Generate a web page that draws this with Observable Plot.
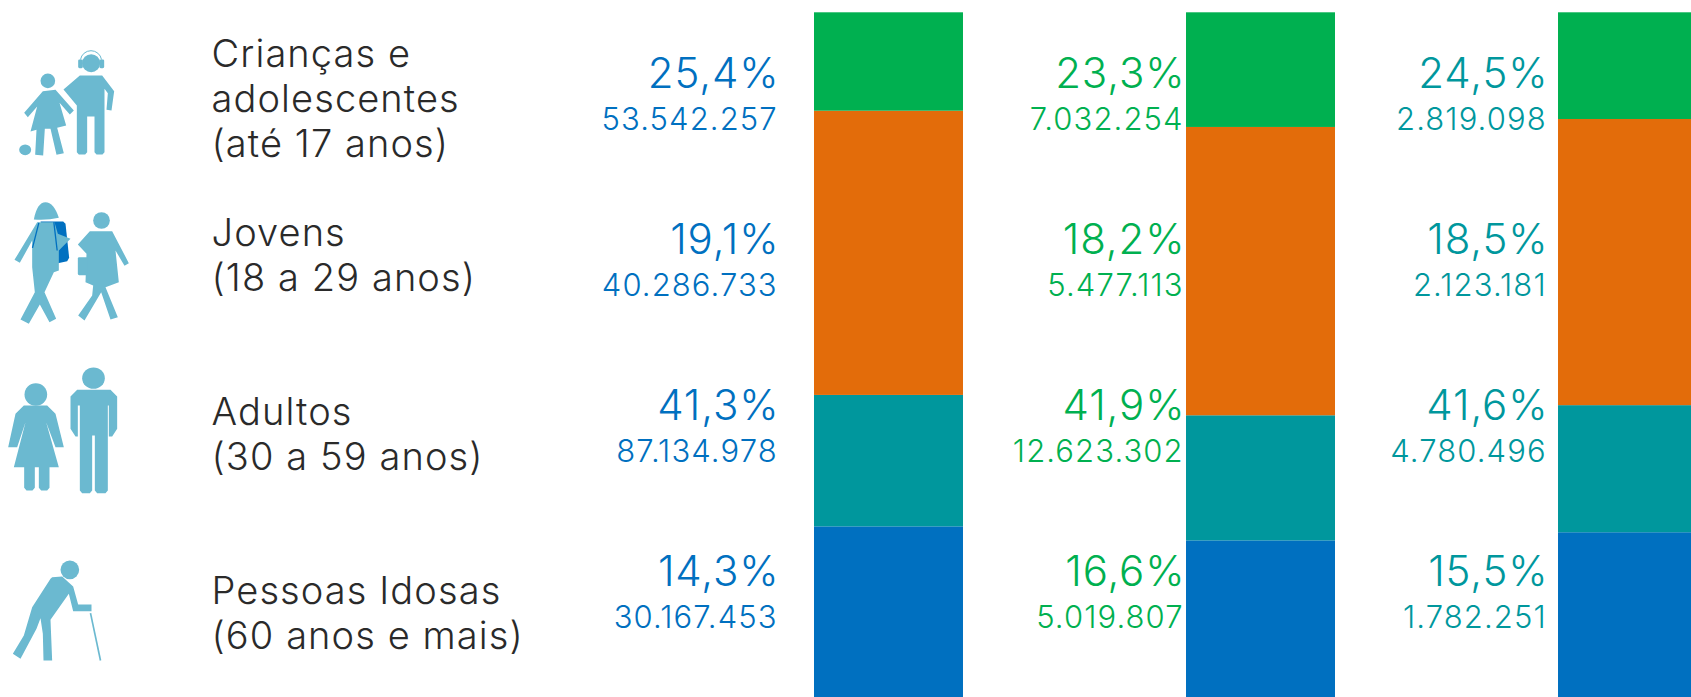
<!DOCTYPE html>
<html><head><meta charset="utf-8">
<script src="https://cdn.jsdelivr.net/npm/d3@7"></script>
<script src="https://cdn.jsdelivr.net/npm/@observablehq/plot@0.6"></script>
<style>
html,body{margin:0;padding:0;background:#fff;overflow:hidden}
#c{position:relative;width:1691px;height:697px}
#c svg{position:absolute;left:0;top:0;background:transparent}
#c g[font-size="42"]{letter-spacing:.9px}
#c g[font-size="31"]{letter-spacing:1.1px}
#c g[font-size="38"]{letter-spacing:1.1px}
</style></head><body><div id="c"></div>
<script>
const groups = ["Crianças e\nadolescentes\n(até 17 anos)","Jovens\n(18 a 29 anos)","Adultos\n(30 a 59 anos)","Pessoas Idosas\n(60 anos e mais)"];
const columns = ["A","B","C"];
const percentA = ["25,4%","19,1%","41,3%","14,3%"];
const percentB = ["23,3%","18,2%","41,9%","16,6%"];
const percentC = ["24,5%","18,5%","41,6%","15,5%"];
const countA = [53542257,40286733,87134978,30167453];
const countB = [7032254,5477113,12623302,5019807];
const countC = [2819098,2123181,4780496,1782251];
const segmentColors = ["#0070C0","#00979D","#E36C0A","#00B050"];
const textColors = ["#0070C0","#00B050","#00979D"];

const fmt = n => d3.format(",")(n).replace(/,/g,".");
const pcts=[percentA,percentB,percentC], cnts=[countA,countB,countC];
const bars = columns.flatMap((c,j)=>groups.map((g,i)=>({c,g,v:cnts[j][i]})));
const font = "Inter, sans-serif";

const X = {type:"band",domain:columns,range:[814,1707],paddingInner:0.5995,paddingOuter:0,align:0,round:false,axis:null};
const base = {width:1691,height:697,marginTop:0,marginRight:0,marginBottom:0,marginLeft:0};

const barPlot = Plot.plot({...base,x:X,
  y:{domain:[0,1],range:[701,12.3],axis:null},
  color:{domain:groups,range:segmentColors},
  marks:[Plot.barY(bars,{x:"c",y:"v",z:"g",fill:"g",offset:"normalize",inset:0})]});

const numberPlot = Plot.plot({...base,x:X,
  y:{type:"point",domain:groups,range:[87,585],padding:0,axis:null},
  style:{fontFamily:font,background:"transparent"},
  marks:columns.flatMap((c,j)=>{
    const rows=groups.map((g,i)=>({g,p:pcts[j][i],n:fmt(cnts[j][i])}));
    const common={x:()=>c,y:"g",textAnchor:"end",lineAnchor:"bottom",fill:textColors[j],fontWeight:300};
    const dx=[-112.5,-78.5,-87.5][j];
    return [Plot.text(rows,{...common,text:"p",fontSize:42,dx:dx+3}),
            Plot.text(rows,{...common,text:"n",fontSize:31,dx:dx+1.2,dy:42})];
  })});

const C="#6BB9D0";
const poly=p=>`<polygon fill="${C}" points="${p}"/>`;
const circ=(x,y,r)=>`<circle fill="${C}" cx="${x}" cy="${y}" r="${r}"/>`;
const icon=(vy,body)=>"data:image/svg+xml,"+encodeURIComponent(`<svg xmlns="http://www.w3.org/2000/svg" viewBox="0 ${vy} 480 960">${body}</svg>`);
const icons=[
 icon(-435, circ(142,181,22)+`<ellipse fill="${C}" cx="74" cy="388" rx="18" ry="16"/>`+
  poly("127,212 165,208 220,270 208,282 177,247 197,315 170,322 190,398 168,403 150,325 133,325 128,405 104,403 108,328 90,333 110,258 82,290 71,277")+
  circ(272,128,27)+`<rect fill="${C}" x="233" y="117" width="14" height="26" rx="4"/><rect fill="${C}" x="297" y="117" width="14" height="26" rx="4"/><path d="M240 117 A32 32 0 0 1 303 117" fill="none" stroke="${C}" stroke-width="3"/>`+
  poly("238,165 305,165 341,212 333,270 318,268 322,218 312,205 312,395 306,402 288,402 282,395 282,288 260,288 260,395 254,402 235,402 229,395 229,255 189,207")),
 icon(102, `<polygon fill="#0070C0" points="120,603 188,603 195,610 206,712 200,722 172,728"/>`+
  `<path fill="${C}" d="M100 597 Q110 545 135 545 Q160 545 175 592 Q140 600 100 597 Z"/>`+
  poly("110,605 162,605 172,640 210,655 175,690 175,750 160,755 132,815 167,895 147,905 118,852 85,910 60,897 103,815 95,740 95,660 58,727 42,718")+
  `<path d="M115 607 L96 682 M160 605 L170 690" stroke="#0070C0" stroke-width="4" fill="none"/>`+
  circ(303,600,25)+poly("268,632 335,632 385,728 372,736 345,690 355,785 315,800 352,890 330,897 302,815 252,900 233,885 275,825 278,795 255,785 258,700 232,672")+
  `<rect fill="${C}" x="232" y="710" width="30" height="54" rx="4"/>`),
 icon(-351, circ(106,132,34)+
  poly("70,165 140,165 165,190 190,290 165,290 137,215 175,350 147,350 147,412 140,420 122,420 115,412 115,350 103,350 103,412 96,420 78,420 71,412 71,350 40,350 75,215 50,290 23,290 45,190")+
  `<ellipse fill="${C}" cx="279" cy="83" rx="34" ry="32"/>`+
  poly("230,118 330,118 350,138 350,235 335,258 325,258 325,165 322,165 322,420 315,428 290,428 283,420 283,255 275,255 275,420 268,428 245,428 238,420 238,165 232,165 232,258 225,258 210,235 210,138")),
 icon(186, circ(208,658,28)+
  poly("155,680 185,678 218,708 233,762 273,762 273,782 218,782 205,730 150,808 155,930 129,930 127,850 120,803 108,835 60,925 37,910 70,855 95,770 150,685")+
  `<path d="M270 788 L300 930" stroke="${C}" stroke-width="5"/>`)
];
const labelRows=groups.map((g,i)=>({g,src:icons[i]}));
const labelPlot = Plot.plot({...base,
  x:{type:"point",domain:["icon","label"],range:[80,211],padding:0,axis:null},
  y:{type:"point",domain:groups,range:[35,572],padding:0,axis:null},
  style:{fontFamily:font,background:"transparent"},
  marks:[
    Plot.image(labelRows,{x:()=>"icon",y:"g",src:"src",width:160,height:320}),
    Plot.text(labelRows,{x:()=>"label",y:"g",text:"g",textAnchor:"start",lineAnchor:"top",fontSize:38,lineHeight:45/38,fill:"#2a2a2a",fontWeight:300})
  ]});

const c=document.getElementById("c");
c.append(barPlot,numberPlot,labelPlot);
</script></body></html>
